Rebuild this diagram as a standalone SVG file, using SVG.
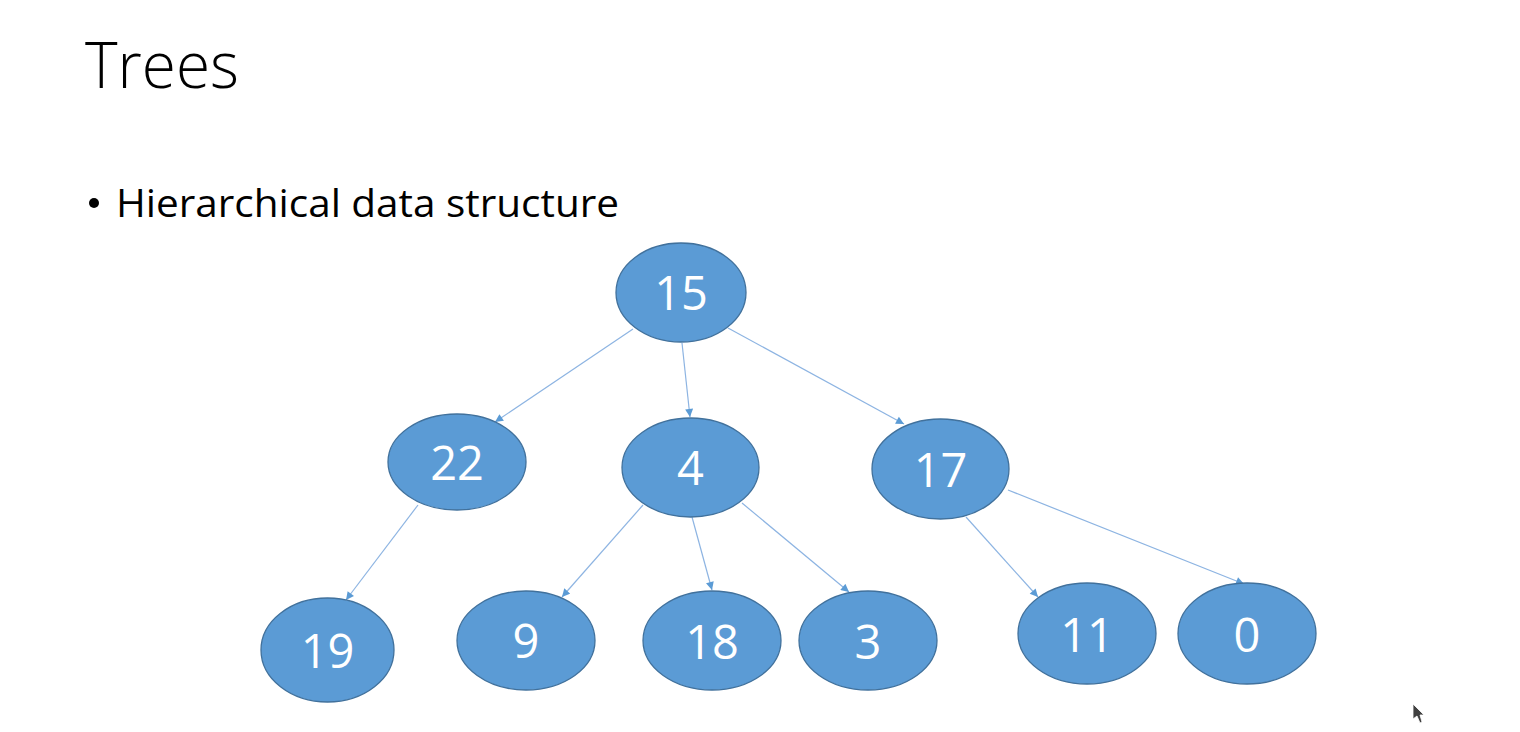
<svg xmlns="http://www.w3.org/2000/svg" width="1520" height="732" viewBox="0 0 1520 732">
<defs>
<style>
.node ellipse{fill:#5B9BD5;stroke:#41719C;stroke-width:1.3}
.node text{fill:#FFFFFF;font-family:"Open Sans","Liberation Sans",sans-serif;font-size:47px;text-anchor:middle}
.edge{stroke:#8DB4E2;stroke-width:1.2;fill:none;marker-end:url(#arr)}
.title{font-family:"Open Sans","Liberation Sans",sans-serif;font-weight:300;font-size:64px;fill:#000}
.body{font-family:"Open Sans","Liberation Sans",sans-serif;font-size:38px;fill:#000}
</style>
<marker id="arr" viewBox="0 0 10 10" refX="10" refY="5" markerWidth="9" markerHeight="8" markerUnits="userSpaceOnUse" orient="auto">
<path d="M0,0 L10,5 L0,10 z" fill="#5B9BD5"/>
</marker>
</defs>
<rect width="1520" height="732" fill="#FFFFFF"/>
<text class="title" x="85" y="88" textLength="154" lengthAdjust="spacingAndGlyphs">Trees</text>
<circle cx="94" cy="203" r="5" fill="#000"/>
<text class="body" x="116" y="217" textLength="503" lengthAdjust="spacingAndGlyphs">Hierarchical data structure</text>
<g id="connectors">
<line class="edge" x1="633" y1="329" x2="495" y2="422"/>
<line class="edge" x1="682" y1="343" x2="690" y2="417"/>
<line class="edge" x1="728" y1="328" x2="904" y2="424"/>
<line class="edge" x1="418" y1="505" x2="346" y2="600"/>
<line class="edge" x1="643" y1="505" x2="562" y2="597"/>
<line class="edge" x1="692" y1="517" x2="712" y2="590"/>
<line class="edge" x1="742" y1="503" x2="849" y2="592"/>
<line class="edge" x1="966" y1="517" x2="1038" y2="597"/>
<line class="edge" x1="1008" y1="490" x2="1244" y2="584"/>
</g>
<g id="n15" class="node"><ellipse cx="681" cy="292.5" rx="65" ry="49.5"/><text x="681" y="310">15</text></g>
<g id="n22" class="node"><ellipse cx="457" cy="462" rx="69" ry="48"/><text x="457" y="480">22</text></g>
<g id="n4" class="node"><ellipse cx="690.5" cy="467.5" rx="68.5" ry="49.5"/><text x="690.5" y="485">4</text></g>
<g id="n17" class="node"><ellipse cx="940.5" cy="469" rx="68.5" ry="50"/><text x="940.5" y="487">17</text></g>
<g id="n19" class="node"><ellipse cx="327.5" cy="650" rx="66.5" ry="52"/><text x="327.5" y="668">19</text></g>
<g id="n9" class="node"><ellipse cx="526" cy="640.5" rx="69" ry="49.5"/><text x="526" y="658">9</text></g>
<g id="n18" class="node"><ellipse cx="712" cy="640.5" rx="69" ry="49.5"/><text x="712" y="659">18</text></g>
<g id="n3" class="node"><ellipse cx="868" cy="640.5" rx="69" ry="49.5"/><text x="868" y="659">3</text></g>
<g id="n11" class="node"><ellipse cx="1087" cy="633.5" rx="69" ry="50.5"/><text x="1087" y="652">11</text></g>
<g id="n0" class="node"><ellipse cx="1247" cy="633.5" rx="69" ry="50.5"/><text x="1247" y="652">0</text></g>
<polygon points="1413,704 1413,719 1417,716 1420,723 1422,722 1420,715 1424,715" fill="#404040" stroke="#FFFFFF" stroke-width="0.8"/>
</svg>
